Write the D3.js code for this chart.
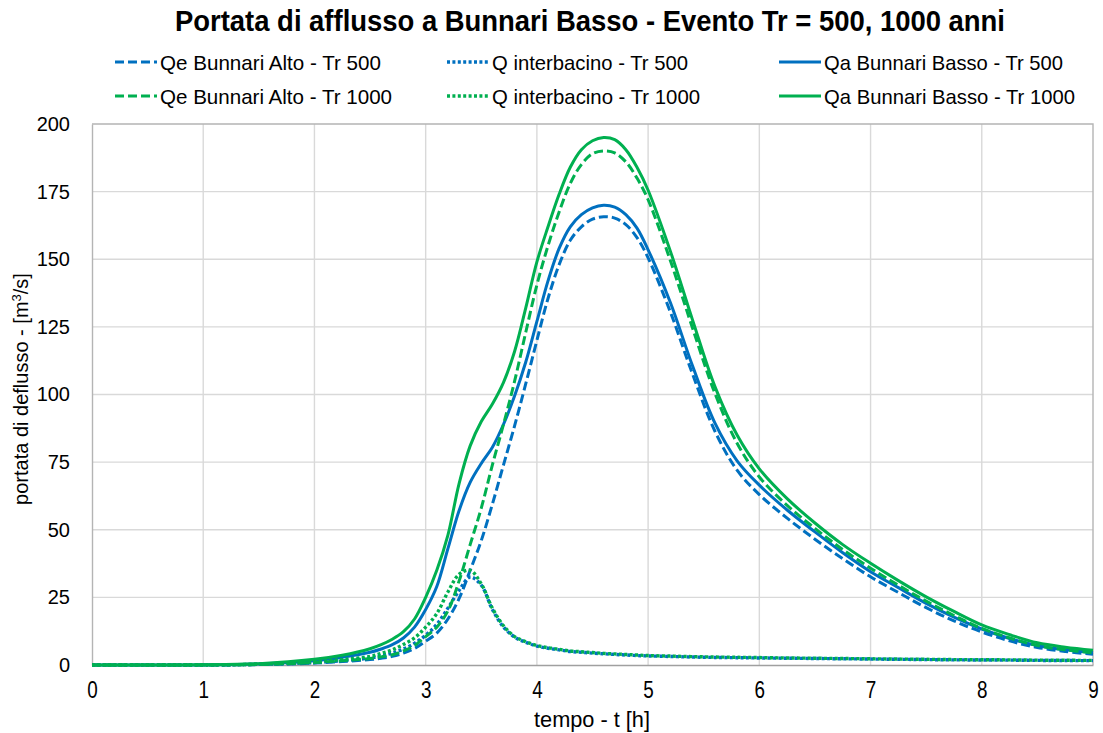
<!DOCTYPE html>
<html>
<head>
<meta charset="utf-8">
<script src="https://cdn.jsdelivr.net/npm/d3@7"></script>
<style>
  body { margin: 0; background: #ffffff; }
  svg { display: block; }
</style>
</head>
<body>
<svg id="chart" width="1103" height="733"></svg>
<script>
// Hydrograph time steps [h]
const time = [0, 0.5, 1, 1.5, 2, 2.25, 2.5, 2.6, 2.7, 2.8, 2.9,
  3.0, 3.1, 3.2, 3.3, 3.4, 3.5, 3.6, 3.7, 3.8, 3.9,
  4.0, 4.1, 4.2, 4.3, 4.4, 4.5, 4.6, 4.7, 4.8, 4.9,
  5.0, 5.2, 5.4, 5.6, 5.8, 6.0, 6.25, 6.5, 6.75,
  7.0, 7.25, 7.5, 7.75, 8.0, 8.25, 8.5, 8.75, 9.0];

// Qe Bunnari Alto [m3/s]
const qeAltoTr500 = [0, 0, 0, 0.15, 0.7, 1.3, 2.0, 2.5, 3.2, 4.4, 6.1,
  8.8, 11.8, 17, 24.5, 35, 46, 59.5, 74, 88.5, 104,
  120, 135.5, 148, 157, 162, 164.8, 165.7, 165.2, 162.8, 158,
  150.5, 130.5, 107.5, 86.5, 72, 63, 54.3, 46.5, 39.3,
  32.6, 26.8, 21.2, 16.3, 12.2, 8.9, 6.5, 5.0, 4.0];
const qeAltoTr1000 = [0, 0, 0, 0.2, 0.9, 1.6, 2.4, 3.0, 3.8, 5.2, 7.2,
  10.5, 14, 20, 31, 44.5, 58, 74, 89, 105, 123,
  140.5, 155, 167.5, 178, 185, 189, 190, 189.3, 186, 180,
  172, 149.5, 124.5, 100.5, 82, 69.5, 59, 50.5, 42.7,
  35.8, 29.5, 23.6, 18.3, 13.5, 10, 7.2, 5.6, 4.5];

// Q interbacino [m3/s]
const qInterTr500 = [0, 0, 0, 0.25, 0.9, 1.6, 2.6, 3.4, 4.4, 5.9, 8,
  11, 15, 21, 27.5, 32.5, 29.5, 20.5, 14, 10.3, 8.4,
  7.0, 6.2, 5.6, 5.0, 4.7, 4.4, 4.15, 3.9, 3.7, 3.5,
  3.35, 3.15, 2.95, 2.8, 2.7, 2.6, 2.5, 2.4, 2.3,
  2.2, 2.1, 2.0, 1.9, 1.85, 1.8, 1.7, 1.65, 1.6];
const qInterTr1000 = [0, 0, 0, 0.3, 1.2, 2.0, 3.2, 4.3, 5.6, 7.6, 10,
  14, 19, 27, 33.5, 35, 30, 21, 14.5, 10.5, 8.6,
  7.2, 6.4, 5.8, 5.2, 4.9, 4.6, 4.3, 4.1, 3.9, 3.7,
  3.5, 3.3, 3.1, 2.95, 2.85, 2.75, 2.6, 2.5, 2.4,
  2.3, 2.2, 2.1, 2.0, 1.95, 1.9, 1.8, 1.75, 1.7];

// Qa Bunnari Basso [m3/s]
const qaBassoTr500 = [0, 0, 0.05, 0.4, 1.6, 2.9, 4.7, 5.9, 7.5, 10, 14,
  20.5, 29, 43, 57, 67.5, 74.5, 80.5, 89, 99.5, 112,
  127, 142, 154, 162, 166.5, 169, 170, 169.3, 166.5, 161.5,
  153.5, 134, 110.5, 89.5, 75.5, 66.5, 57.3, 49.2, 41.5,
  34.5, 28.6, 22.8, 17.7, 13.3, 9.8, 7.2, 5.6, 4.6];
const qaBassoTr1000 = [0, 0, 0.05, 0.5, 2.1, 3.6, 6.0, 7.5, 9.5, 12.3, 17,
  25, 35, 48, 67, 81, 90, 96.5, 104.5, 116, 132,
  149, 162, 174, 184, 190.5, 193.8, 195, 194.2, 190.5, 184,
  175.5, 153, 127.5, 103, 85, 72.5, 61.5, 52.5, 44.5,
  37.6, 31.2, 25.2, 19.8, 14.8, 11.2, 8.2, 6.6, 5.5];

// Axis ticks
const xTicks = [0, 1, 2, 3, 4, 5, 6, 7, 8, 9];
const yTicks = [0, 25, 50, 75, 100, 125, 150, 175, 200];

const chartTitle = "Portata di afflusso a Bunnari Basso - Evento Tr = 500, 1000 anni";
const xTitle = "tempo - t  [h]";

const BLUE = "#0070C0", GREEN = "#00B050";
const DASH = "9,4", DOT = "3,2.4";

const series = [
  { name: "Qe Bunnari Alto - Tr 500",    values: qeAltoTr500,   color: BLUE,  dash: DASH, width: 3,   textW: 221 },
  { name: "Q interbacino - Tr 500",      values: qInterTr500,   color: BLUE,  dash: DOT,  width: 3.4, textW: 196 },
  { name: "Qa Bunnari Basso - Tr 500",   values: qaBassoTr500,  color: BLUE,  dash: null, width: 3,   textW: 239 },
  { name: "Qe Bunnari Alto - Tr 1000",   values: qeAltoTr1000,  color: GREEN, dash: DASH, width: 3,   textW: 232 },
  { name: "Q interbacino - Tr 1000",     values: qInterTr1000,  color: GREEN, dash: DOT,  width: 3.4, textW: 208 },
  { name: "Qa Bunnari Basso - Tr 1000",  values: qaBassoTr1000, color: GREEN, dash: null, width: 3,   textW: 251 }
];

const svg = d3.select("#chart");
const plot = { left: 92, right: 1093, top: 124, bottom: 665 };

const x = d3.scaleLinear().domain([0, 9]).range([plot.left, plot.right]);
const y = d3.scaleLinear().domain([0, 200]).range([plot.bottom, plot.top]);

const NARROW = "'Liberation Sans Narrow','Arial Narrow','Liberation Sans',Arial,sans-serif";
const REGULAR = "'Liberation Sans',Arial,sans-serif";

// Gridlines
const grid = svg.append("g");
grid.selectAll("line.v").data(xTicks.slice(1, -1)).join("line")
  .attr("x1", d => x(d)).attr("x2", d => x(d))
  .attr("y1", plot.top).attr("y2", plot.bottom)
  .attr("stroke", "#d9d9d9").attr("stroke-width", 1.4);
grid.selectAll("line.h").data(yTicks.slice(1, -1)).join("line")
  .attr("x1", plot.left).attr("x2", plot.right)
  .attr("y1", d => y(d)).attr("y2", d => y(d))
  .attr("stroke", "#d9d9d9").attr("stroke-width", 1.4);

// Plot frame (top and right edges)
svg.append("path")
  .attr("d", `M${plot.left},${plot.top}H${plot.right}V${plot.bottom}`)
  .attr("fill", "none").attr("stroke", "#b4b4b4").attr("stroke-width", 1.4);

// Axes
const xAxis = svg.append("g")
  .attr("transform", `translate(0,${plot.bottom})`)
  .call(d3.axisBottom(x).tickValues(xTicks).tickSize(0).tickPadding(17).tickFormat(d3.format("d")));
xAxis.select(".domain").attr("stroke", "#a0a0a0").attr("stroke-width", 1.6);
xAxis.selectAll("text")
  .attr("font-family", NARROW).attr("font-size", 23).attr("fill", "#000")
  .attr("transform", "scale(0.82,1)");

const yAxis = svg.append("g")
  .attr("transform", `translate(${plot.left},0)`)
  .call(d3.axisLeft(y).tickValues(yTicks).tickSize(0).tickPadding(22).tickFormat(d3.format("d")));
yAxis.select(".domain").attr("stroke", "#b4b4b4").attr("stroke-width", 1.4);
yAxis.selectAll("text")
  .attr("font-family", REGULAR).attr("font-size", 20).attr("fill", "#000");

// Series lines (smoothed)
const line = d3.line().curve(d3.curveCatmullRom.alpha(0.5));
const lines = svg.append("g");
series.forEach(s => {
  lines.append("path")
    .datum(time.map((t, i) => [x(t), y(s.values[i])]))
    .attr("d", line)
    .attr("fill", "none")
    .attr("stroke", s.color)
    .attr("stroke-width", s.width)
    .attr("stroke-dasharray", s.dash)
    .attr("stroke-linejoin", "round");
});

// Title
svg.append("text")
  .attr("x", 590).attr("y", 31)
  .attr("text-anchor", "middle")
  .attr("font-family", NARROW).attr("font-weight", "bold").attr("font-size", 29)
  .attr("textLength", 830).attr("lengthAdjust", "spacingAndGlyphs")
  .text(chartTitle);

// Legend: three columns, two rows
const legendCols = [115, 447, 779];
const legendRows = [62, 96];
const legend = svg.append("g");
series.forEach((s, i) => {
  const cx = legendCols[i % 3], cy = legendRows[Math.floor(i / 3)];
  legend.append("line")
    .attr("x1", cx).attr("x2", cx + 42).attr("y1", cy).attr("y2", cy)
    .attr("stroke", s.color).attr("stroke-width", s.width)
    .attr("stroke-dasharray", s.dash);
  legend.append("text")
    .attr("x", cx + 45).attr("y", cy + 7.5)
    .attr("font-family", NARROW).attr("font-size", 21).attr("fill", "#000")
    .attr("textLength", s.textW).attr("lengthAdjust", "spacingAndGlyphs")
    .text(s.name);
});

// Axis titles
svg.append("text")
  .attr("x", 592).attr("y", 727)
  .attr("text-anchor", "middle")
  .attr("font-family", NARROW).attr("font-size", 22)
  .attr("textLength", 116).attr("lengthAdjust", "spacingAndGlyphs")
  .text(xTitle);

const yTitle = svg.append("text")
  .attr("transform", "translate(28,389) rotate(-90)")
  .attr("text-anchor", "middle")
  .attr("font-family", REGULAR).attr("font-size", 20).attr("fill", "#000");
yTitle.append("tspan").text("portata di deflusso - [m");
yTitle.append("tspan").attr("font-size", 13).attr("dy", -7).text("3");
yTitle.append("tspan").attr("dy", 7).text("/s]");
</script>
</body>
</html>
